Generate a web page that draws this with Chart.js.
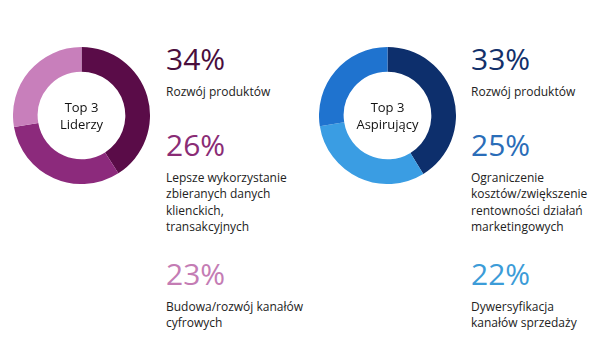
<!DOCTYPE html>
<html>
<head>
<meta charset="utf-8">
<script src="https://cdn.jsdelivr.net/npm/chart.js@4"></script>
<style>
  body { margin: 0; background: #fff; width: 605px; height: 360px; overflow: hidden; position: relative; font-family: "Open Sans", "Noto Sans", sans-serif; }
  .donut { position: absolute; width: 137px; height: 137px; }
  .item { position: absolute; }
  .pct { font-size: 30px; line-height: 32px; font-weight: 400; }
  .lbl { font-size: 12px; line-height: 16.3px; color: #222; margin-top: 9px; }
  .center { position: absolute; width: 137px; text-align: center; font-size: 13px; line-height: 17px; color: #111; }
</style>
</head>
<body>
<canvas id="leaders" class="donut" style="left:13px; top:47px;"></canvas>
<div class="center" style="left:13px; top:99px;">Top 3<br>Liderzy</div>
<canvas id="aspiring" class="donut" style="left:319px; top:47px;"></canvas>
<div class="center" style="left:319px; top:99px;">Top 3<br>Aspirujący</div>
<div id="leadersText"></div>
<div id="aspiringText"></div>
<script>
const leaderLabels = ["Rozwój produktów", "Lepsze wykorzystanie<br>zbieranych danych<br>klienckich,<br>transakcyjnych", "Budowa/rozwój kanałów<br>cyfrowych"];
const leaderValues = [34, 26, 23];
const leaderColors = ["#5a0c48", "#8c2a7c", "#c87fbb"];
const leaderTextColors = ["#4a0d3c", "#8a2c75", "#c47cb4"];

const aspiringLabels = ["Rozwój produktów", "Ograniczenie<br>kosztów/zwiększenie<br>rentowności działań<br>marketingowych", "Dywersyfikacja<br>kanałów sprzedaży"];
const aspiringValues = [33, 25, 22];
const aspiringColors = ["#0d2f6c", "#3a9de3", "#1f73cf"];
const aspiringTextColors = ["#12306a", "#2a6db8", "#3c9cd8"];

const rowTops = [43, 129, 258];

function makeDonut(id, values, colors) {
  new Chart(document.getElementById(id), {
    type: 'doughnut',
    data: {
      labels: values.map(v => v + '%'),
      datasets: [{ data: values, backgroundColor: colors, borderWidth: 0 }]
    },
    options: {
      responsive: false,
      animation: false,
      cutout: '64%',
      plugins: { legend: { display: false }, tooltip: { enabled: false } }
    }
  });
}

function makeText(id, left, values, labels, textColors) {
  const box = document.getElementById(id);
  values.forEach((v, i) => {
    const d = document.createElement('div');
    d.className = 'item';
    d.style.left = left + 'px';
    d.style.top = rowTops[i] + 'px';
    d.innerHTML = '<div class="pct" style="color:' + textColors[i] + '">' + v + '%</div>' +
      '<div class="lbl">' + labels[i] + '</div>';
    box.appendChild(d);
  });
}

makeDonut('leaders', leaderValues, leaderColors);
makeDonut('aspiring', aspiringValues, aspiringColors);
makeText('leadersText', 166, leaderValues, leaderLabels, leaderTextColors);
makeText('aspiringText', 471, aspiringValues, aspiringLabels, aspiringTextColors);
</script>
</body>
</html>
